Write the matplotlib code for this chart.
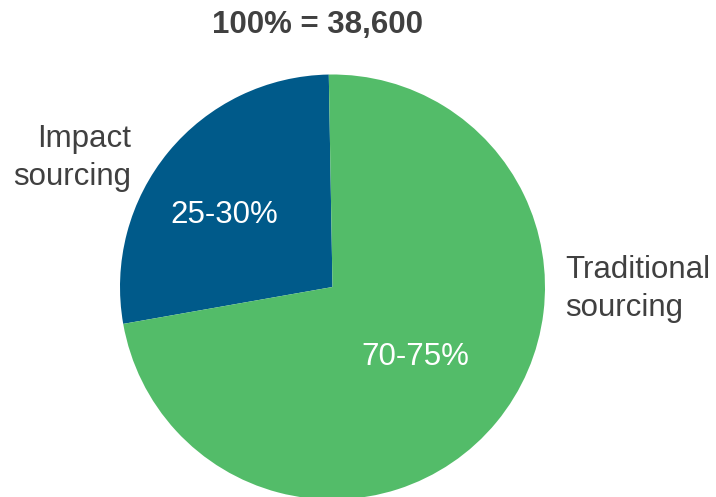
import matplotlib
matplotlib.use("Agg")
import matplotlib.pyplot as plt

plt.rcParams['font.family'] = ['Liberation Sans', 'DejaVu Sans']

categories = ["Impact\nsourcing", "Traditional\nsourcing"]
shares = [27.5, 72.5]
share_labels = ["25-30%", "70-75%"]
colors = ["#005A8A", "#53BC69"]
title = "100% = 38,600"

W, H = 716, 497
fig = plt.figure(figsize=(W / 100, H / 100), dpi=100)

# pie centre (332.5, 287) px, radius 212.5 px
cx, cy, r = 332.5, 287, 212.5
ax = fig.add_axes([(cx - r) / W, (H - cy - r) / H, 2 * r / W, 2 * r / H])
ax.pie(shares, colors=colors, startangle=91, counterclock=True,
       wedgeprops=dict(linewidth=0))
ax.set_xlim(-1, 1)
ax.set_ylim(-1, 1)
ax.set_aspect('auto')
ax.axis('off')

gray = "#404040"
fig.text(317 / W, 1 - 25 / H, title, ha='center', va='center',
         fontsize=22.5, fontweight='bold', color=gray)

# category labels outside the pie
fig.text(131 / W, 1 - 158 / H, categories[0], ha='right', va='center',
         multialignment='right', fontsize=22.5, color=gray, linespacing=1.32)
fig.text(565 / W, 1 - 289 / H, categories[1], ha='left', va='center',
         multialignment='left', fontsize=22.5, color=gray, linespacing=1.32)

# share labels inside the slices
fig.text(224 / W, 1 - 215 / H, share_labels[0], ha='center', va='center',
         fontsize=22.5, color='white')
fig.text(415 / W, 1 - 357 / H, share_labels[1], ha='center', va='center',
         fontsize=22.5, color='white')

fig.savefig("out.png", dpi=100)
